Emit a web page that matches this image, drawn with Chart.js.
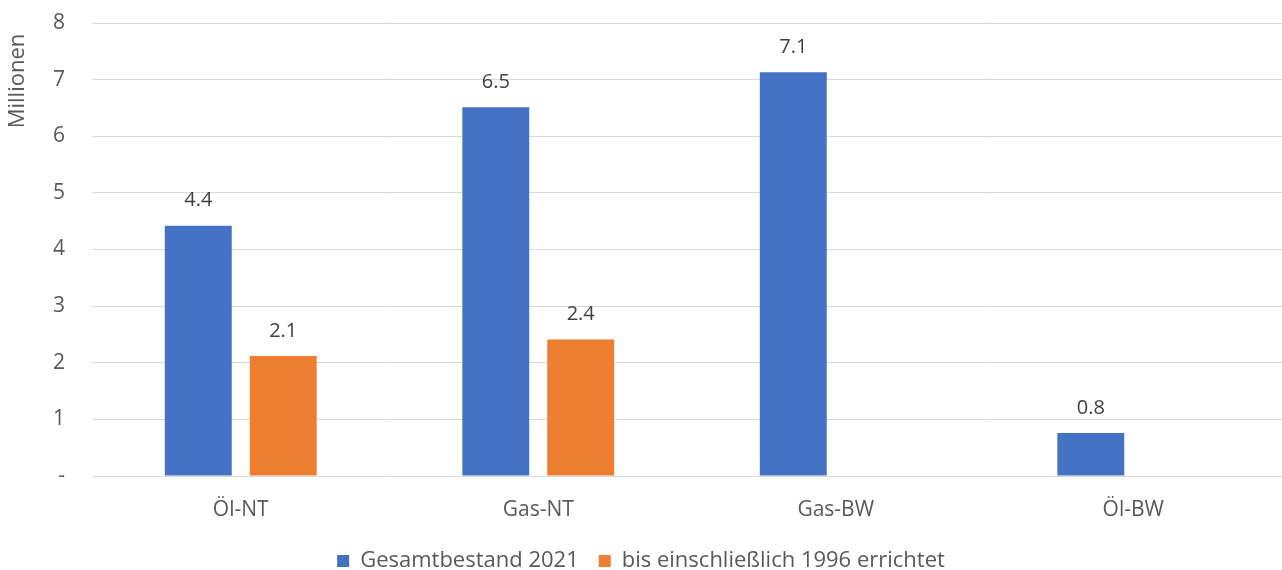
<!DOCTYPE html>
<html>
<head>
<meta charset="utf-8">
<script src="https://cdn.jsdelivr.net/npm/chart.js@4/dist/chart.umd.min.js"></script>
<style>
  html, body { margin: 0; padding: 0; background: #fff; }
  #wrap { width: 1282px; height: 570px; position: relative; }
</style>
</head>
<body>
<div id="wrap"><canvas id="c" width="1282" height="570"></canvas></div>
<script>
// Heizungsbestand nach Kesseltyp (Millionen Anlagen)
const categories = ['Öl-NT', 'Gas-NT', 'Gas-BW', 'Öl-BW'];
const seriesNames = ['Gesamtbestand 2021', 'bis einschließlich 1996 errichtet'];
const gesamtbestand = [4.42, 6.51, 7.13, 0.76];
const bis1996 = [2.12, 2.41, null, null];
const yTicks = [0, 1, 2, 3, 4, 5, 6, 7, 8];
const yTitle = 'Millionen';

const FONT = "'Open Sans', 'Liberation Sans', sans-serif";
const TEXT = '#595959';
const GRID = '#d9d9d9';

// value labels above each bar
const valueLabels = {
  id: 'valueLabels',
  afterDatasetsDraw(chart) {
    const ctx = chart.ctx;
    ctx.save();
    ctx.font = '20px ' + FONT;
    ctx.fillStyle = '#404040';
    ctx.textAlign = 'center';
    ctx.textBaseline = 'middle';
    chart.data.datasets.forEach((ds, i) => {
      chart.getDatasetMeta(i).data.forEach((bar, j) => {
        const v = ds.data[j];
        if (v === null || v === undefined) return;
        ctx.fillText(v.toFixed(1), bar.x, bar.y - 25);
      });
    });
    ctx.restore();
  }
};

// rotated axis title near the top of the value axis
const axisTitle = {
  id: 'axisTitle',
  afterDraw(chart) {
    const ctx = chart.ctx;
    ctx.save();
    ctx.font = '22px ' + FONT;
    ctx.fillStyle = TEXT;
    ctx.textAlign = 'center';
    ctx.textBaseline = 'middle';
    ctx.translate(18, 81);
    ctx.rotate(-Math.PI / 2);
    ctx.fillText(yTitle, 0, 0);
    ctx.restore();
  }
};

new Chart(document.getElementById('c'), {
  type: 'bar',
  data: {
    labels: categories,
    datasets: [
      { label: seriesNames[0], data: gesamtbestand, backgroundColor: '#4472c4', borderWidth: 0 },
      { label: seriesNames[1], data: bis1996, backgroundColor: '#ed7d31', borderWidth: 0 }
    ]
  },
  options: {
    responsive: false,
    animation: false,
    devicePixelRatio: 1,
    layout: { padding: { top: 23, right: 0, left: 0, bottom: -12 } },
    datasets: { bar: { categoryPercentage: 0.571, barPercentage: 0.788 } },
    scales: {
      x: {
        grid: { display: false, drawTicks: false },
        border: { display: true, color: GRID, width: 1 },
        ticks: { color: TEXT, font: { family: FONT, size: 21 }, padding: 21 },
        afterFit(s) { s.height = 54; }
      },
      y: {
        min: 0, max: 8,
        afterBuildTicks(s) { s.ticks = yTicks.map(v => ({ value: v })); },
        grid: { color: GRID, lineWidth: 1, drawTicks: false },
        border: { display: false },
        ticks: {
          color: TEXT, font: { family: FONT, size: 21 }, padding: 27,
          callback: v => v === 0 ? '-' : String(v)
        },
        afterFit(s) { s.width = 92; s.paddingTop = 0; s.paddingBottom = 0; }
      }
    },
    plugins: {
      legend: {
        position: 'bottom',
        labels: {
          color: TEXT, font: { family: FONT, size: 22 },
          boxWidth: 12, boxHeight: 12, padding: 20
        }
      },
      tooltip: { enabled: false }
    }
  },
  plugins: [valueLabels, axisTitle]
});
</script>
</body>
</html>
